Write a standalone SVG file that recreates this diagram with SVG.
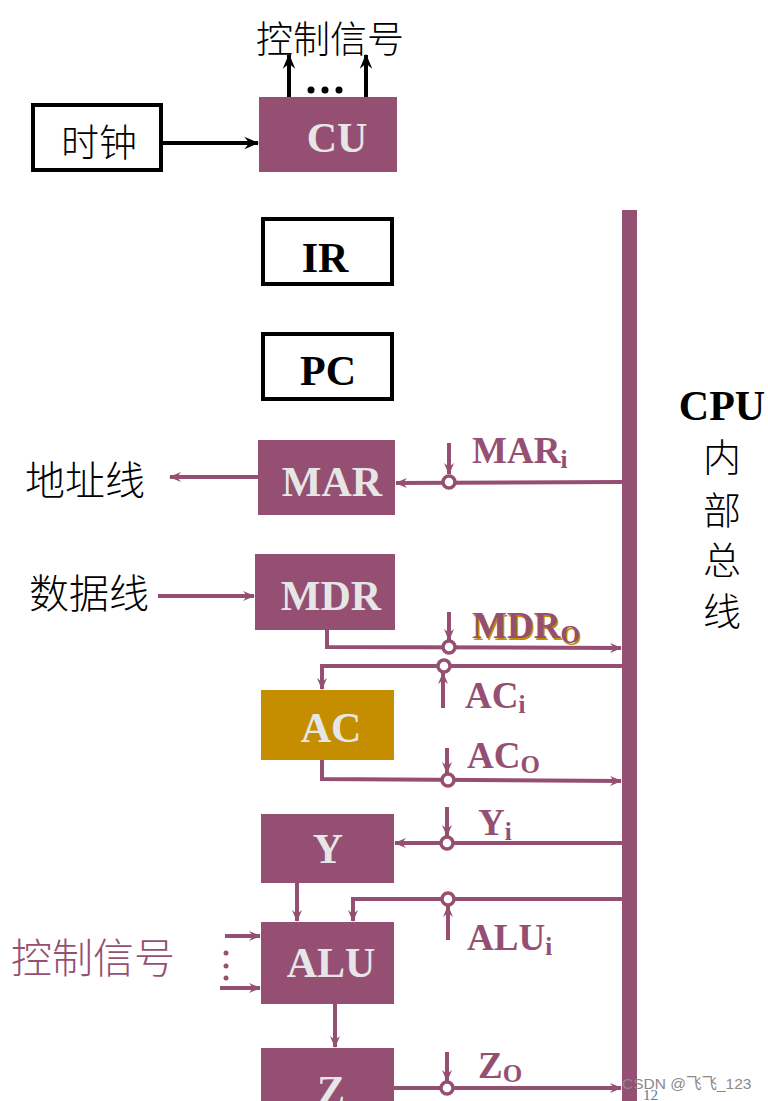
<svg xmlns="http://www.w3.org/2000/svg" width="768" height="1101" viewBox="0 0 768 1101">
  <style>
    .reg { fill: #954F72; }
    .gold { fill: #C48E00; }
    .plain { fill: #FFFFFF; stroke: #000000; stroke-width: 4; }
    .nlab { font-family: "Liberation Serif", serif; font-weight: bold; font-size: 42px; fill: #E6E6E6; text-anchor: middle; }
    .blab { font-family: "Liberation Serif", serif; font-weight: bold; font-size: 42px; fill: #000000; text-anchor: middle; }
    .sig { font-family: "Liberation Serif", serif; font-weight: bold; font-size: 37px; fill: #954F72; }
    .sub { font-size: 25px; }
    .cjk { font-family: "Noto Sans CJK SC", sans-serif; font-weight: 300; fill: #000000; }
    .wire { fill: none; stroke: #954F72; stroke-width: 4; }
    .kwire { fill: none; stroke: #000000; stroke-width: 4; }
    .gate { fill: #FFFFFF; stroke: #954F72; stroke-width: 3.5; }
  </style>
  <defs>
    <marker id="ah" viewBox="0 0 12 10" refX="11" refY="5" markerWidth="12" markerHeight="10" markerUnits="userSpaceOnUse" orient="auto">
      <path d="M0,0 L12,5 L0,10 L4,5 z" fill="#954F72"/>
    </marker>
    <marker id="ahk" viewBox="0 0 12 10" refX="11" refY="5" markerWidth="15" markerHeight="14" markerUnits="userSpaceOnUse" orient="auto">
      <path d="M0,0 L12,5 L0,10 L4,5 z" fill="#000000"/>
    </marker>
  </defs>

  <!-- internal bus -->
  <g id="bus">
    <rect x="622" y="210" width="15" height="891" class="reg"/>
    <text x="722" y="420" class="blab" font-size="41">CPU</text>
    <text x="722" y="471" class="cjk" font-size="38" text-anchor="middle">内</text>
    <text x="722" y="524" class="cjk" font-size="38" text-anchor="middle">部</text>
    <text x="722" y="574" class="cjk" font-size="38" text-anchor="middle">总</text>
    <text x="722" y="625" class="cjk" font-size="38" text-anchor="middle">线</text>
  </g>

  <!-- clock -->
  <g id="clock">
    <rect x="33" y="105" width="128" height="65" class="plain"/>
    <text x="99" y="156" class="cjk" font-size="38" text-anchor="middle">时钟</text>
  </g>

  <!-- control unit -->
  <g id="cu">
    <rect x="259" y="97" width="138" height="75" class="reg"/>
    <text x="337" y="152" class="nlab">CU</text>
  </g>

  <g id="cu-signals">
    <text x="330" y="53" class="cjk" font-size="37" text-anchor="middle">控制信号</text>
    <circle cx="311" cy="90" r="3.5" fill="#000"/>
    <circle cx="325" cy="90" r="3.5" fill="#000"/>
    <circle cx="339" cy="90" r="3.5" fill="#000"/>
  </g>

  <g id="ir">
    <rect x="263" y="219" width="129" height="65" class="plain"/>
    <text x="325" y="272" class="blab">IR</text>
  </g>

  <g id="pc">
    <rect x="263" y="334" width="129" height="65" class="plain"/>
    <text x="328" y="385" class="blab">PC</text>
  </g>

  <g id="mar">
    <rect x="258" y="440" width="137" height="75" class="reg"/>
    <text x="332" y="496" class="nlab">MAR</text>
  </g>

  <g id="mdr">
    <rect x="255" y="554" width="140" height="76" class="reg"/>
    <text x="331" y="610" class="nlab">MDR</text>
  </g>

  <g id="ac">
    <rect x="261" y="690" width="133" height="70" class="gold"/>
    <text x="331" y="742" class="nlab">AC</text>
  </g>

  <g id="y">
    <rect x="261" y="814" width="133" height="69" class="reg"/>
    <text x="328" y="863" class="nlab">Y</text>
  </g>

  <g id="alu">
    <rect x="261" y="922" width="133" height="82" class="reg"/>
    <text x="331" y="977" class="nlab">ALU</text>
  </g>

  <!-- Z runs past the lower edge of the sheet -->
  <g id="z">
    <rect x="261" y="1048" width="133" height="60" class="reg"/>
    <text x="331" y="1105" class="nlab">Z</text>
  </g>

  <g id="address-bus">
    <text x="85" y="495" class="cjk" font-size="40" text-anchor="middle">地址线</text>
  </g>

  <g id="data-bus">
    <text x="89" y="608" class="cjk" font-size="40" text-anchor="middle">数据线</text>
  </g>

  <g id="alu-control">
    <text x="93" y="973" class="cjk" font-size="41" text-anchor="middle" style="fill:#954F72">控制信号</text>
    <circle cx="226" cy="953" r="2.5" fill="#954F72"/>
    <circle cx="226" cy="966" r="2.5" fill="#954F72"/>
    <circle cx="226" cy="978" r="2.5" fill="#954F72"/>
  </g>

  <!-- signal labels -->
  <g id="signal-labels">
    <text x="472" y="463" class="sig">MAR<tspan class="sub" dy="5">i</tspan></text>
    <text x="473.5" y="639.5" class="sig" style="fill:#C48E00">MDR<tspan class="sub" dy="5">O</tspan></text>
    <text x="472" y="638" class="sig">MDR<tspan class="sub" dy="5">O</tspan></text>
    <text x="465" y="708" class="sig">AC<tspan class="sub" dy="5">i</tspan></text>
    <text x="467" y="768" class="sig">AC<tspan class="sub" dy="5">O</tspan></text>
    <text x="478" y="835" class="sig">Y<tspan class="sub" dy="5">i</tspan></text>
    <text x="467" y="950" class="sig">ALU<tspan class="sub" dy="5">i</tspan></text>
    <text x="478" y="1078" class="sig">Z<tspan class="sub" dy="4">O</tspan></text>
  </g>

  <g id="connectors">
    <!-- black control paths -->
    <line x1="163" y1="143" x2="258" y2="143" class="kwire" marker-end="url(#ahk)"/>
    <line x1="289" y1="97" x2="289" y2="55" class="kwire" marker-end="url(#ahk)"/>
    <line x1="366" y1="97" x2="366" y2="55" class="kwire" marker-end="url(#ahk)"/>

    <!-- external lines -->
    <line x1="258" y1="477" x2="170" y2="477" class="wire" marker-end="url(#ah)"/>
    <line x1="158" y1="596" x2="254" y2="596" class="wire" marker-end="url(#ah)"/>

    <!-- bus -> MAR -->
    <line x1="622" y1="482" x2="396" y2="483" class="wire" marker-end="url(#ah)"/>
    <line x1="449" y1="443" x2="449" y2="474" class="wire" marker-end="url(#ah)"/>
    <circle cx="449" cy="482" r="6" class="gate"/>

    <!-- MDR -> bus -->
    <polyline points="327,630 327,647 621,648" class="wire" marker-end="url(#ah)"/>
    <line x1="449" y1="612" x2="449" y2="640" class="wire" marker-end="url(#ah)"/>
    <circle cx="449" cy="647" r="6" class="gate"/>

    <!-- bus -> AC -->
    <polyline points="622,666 322,666 322,689" class="wire" marker-end="url(#ah)"/>
    <line x1="443" y1="708" x2="443" y2="673" class="wire" marker-end="url(#ah)"/>
    <circle cx="444" cy="666" r="6" class="gate"/>

    <!-- AC -> bus -->
    <polyline points="322,760 322,779 621,781" class="wire" marker-end="url(#ah)"/>
    <line x1="447" y1="748" x2="447" y2="773" class="wire" marker-end="url(#ah)"/>
    <circle cx="448" cy="780" r="6" class="gate"/>

    <!-- bus -> Y -->
    <line x1="622" y1="843" x2="395" y2="843" class="wire" marker-end="url(#ah)"/>
    <line x1="447" y1="807" x2="447" y2="836" class="wire" marker-end="url(#ah)"/>
    <circle cx="447" cy="843" r="6" class="gate"/>

    <!-- Y -> ALU -->
    <line x1="297" y1="883" x2="297" y2="921" class="wire" marker-end="url(#ah)"/>

    <!-- bus -> ALU -->
    <polyline points="622,899 353,899 353,921" class="wire" marker-end="url(#ah)"/>
    <line x1="448" y1="940" x2="448" y2="906" class="wire" marker-end="url(#ah)"/>
    <circle cx="448" cy="899" r="6" class="gate"/>

    <!-- control inputs -> ALU -->
    <line x1="225" y1="936" x2="260" y2="936" class="wire" marker-end="url(#ah)"/>
    <line x1="220" y1="988" x2="260" y2="988" class="wire" marker-end="url(#ah)"/>

    <!-- ALU -> Z -->
    <line x1="335" y1="1004" x2="335" y2="1047" class="wire" marker-end="url(#ah)"/>

    <!-- Z -> bus -->
    <line x1="394" y1="1088" x2="621" y2="1088" class="wire" marker-end="url(#ah)"/>
    <line x1="447" y1="1052" x2="447" y2="1081" class="wire" marker-end="url(#ah)"/>
    <circle cx="447" cy="1088" r="6" class="gate"/>
  </g>

  <g id="footer">
    <text x="643" y="1100" font-family="Liberation Serif, serif" font-size="15" fill="#5A7A9A">12</text>
    <text x="622" y="1089" font-family="Liberation Sans, Noto Sans CJK SC, sans-serif" font-size="15.5" fill="#8A8A8A">CSDN @飞飞_123</text>
  </g>
</svg>
